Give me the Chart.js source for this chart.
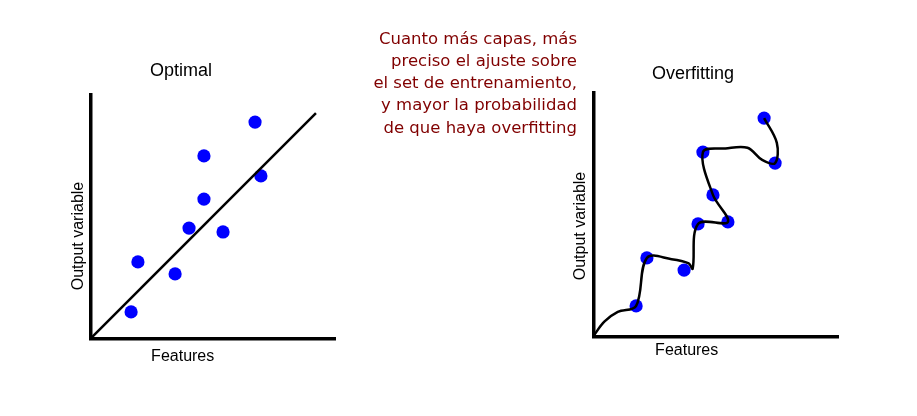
<!DOCTYPE html>
<html>
<head>
<meta charset="utf-8">
<script src="https://cdn.jsdelivr.net/npm/chart.js@4"></script>
<style>
  html, body { margin:0; padding:0; background:#fff; }
  #wrap { position:relative; width:917px; height:416px; overflow:hidden; background:#fff; }
  canvas { position:absolute; left:0; top:0; }
  .lbl { position:absolute; font-family:"Liberation Sans", Arial, sans-serif; color:#000; line-height:1; white-space:nowrap; text-align:center; width:240px; }
  .t18 { font-size:18px; }
  .t16 { font-size:16px; }
  .rot { transform:rotate(-90deg); transform-origin:50% 50%; }
  #note { position:absolute; right:340px; top:27.7px; font-family:"DejaVu Sans", Verdana, sans-serif; font-size:16.5px; line-height:22.2px; color:#800000; text-align:right; white-space:nowrap; }
</style>
</head>
<body>
<div id="wrap">
  <canvas id="cOpt" width="917" height="416"></canvas>
  <canvas id="cOver" width="917" height="416"></canvas>
  <div id="tOpt" class="lbl t18" style="left:61px; top:60.8px;"></div>
  <div id="tOver" class="lbl t18" style="left:573px; top:63.8px;"></div>
  <div id="xOpt" class="lbl t16" style="left:62.7px; top:347.5px;"></div>
  <div id="xOver" class="lbl t16" style="left:566.7px; top:341.5px;"></div>
  <div id="yOpt" class="lbl t16 rot" style="left:-42.3px; top:227.5px;"></div>
  <div id="yOver" class="lbl t16 rot" style="left:460.3px; top:217.8px;"></div>
  <div id="note"></div>
</div>
<script>
// ---- text ----
const titleOptimal = "Optimal";
const titleOverfit = "Overfitting";
const xAxisLabel = "Features";
const yAxisLabel = "Output variable";
const noteLines = [
  "Cuanto más capas, más",
  "preciso el ajuste sobre",
  "el set de entrenamiento,",
  "y mayor la probabilidad",
  "de que haya overfitting"
];

// ---- Optimal panel data ----
const optimalX = [6.73, 4.64, 6.97, 4.64, 4.03, 5.42, 1.94, 3.46, 1.66];
const optimalY = [8.89, 7.50, 6.68, 5.73, 4.54, 4.38, 3.15, 2.66, 1.10];
const optimalFitX = [0, 9.22];
const optimalFitY = [0, 9.26];

// ---- Overfitting panel data ----
const overfitX = [6.98, 7.43, 4.48, 4.89, 4.28, 5.50, 2.19, 3.71, 1.75];
const overfitY = [8.97, 7.12, 7.57, 5.81, 4.62, 4.70, 3.22, 2.72, 1.25];
const overfitCurveX = [0, 0.45, 1.00, 1.75, 2.19, 3.20, 3.90, 4.06, 4.28, 5.50, 4.89, 4.48, 5.40, 6.30, 6.90, 7.43, 7.50, 6.98];
const overfitCurveY = [0, 0.60, 1.00, 1.25, 3.22, 3.17, 3.00, 2.78, 4.62, 4.70, 5.81, 7.57, 7.72, 7.75, 7.25, 7.12, 7.95, 8.97];

// ---- labels into DOM ----
document.getElementById('tOpt').textContent = titleOptimal;
document.getElementById('tOver').textContent = titleOverfit;
document.getElementById('xOpt').textContent = xAxisLabel;
document.getElementById('xOver').textContent = xAxisLabel;
document.getElementById('yOpt').textContent = yAxisLabel;
document.getElementById('yOver').textContent = yAxisLabel;
const note = document.getElementById('note');
noteLines.forEach((l, i) => {
  if (i) note.appendChild(document.createElement('br'));
  note.appendChild(document.createTextNode(l));
});

function pts(xs, ys) { return xs.map((x, i) => ({x: x, y: ys[i]})); }

function axis(horizontal) {
  return {
    type: 'linear', min: 0, max: 10,
    grid: { display: false, drawTicks: false },
    ticks: { display: false },
    border: { display: true, width: 3.5, color: '#000' },
    afterFit: horizontal ? (s) => { s.height = 0; } : (s) => { s.width = 0; }
  };
}

function makeChart(id, padding, scatterPts, linePts, tension) {
  return new Chart(document.getElementById(id), {
    type: 'scatter',
    data: {
      datasets: [
        {
          data: linePts, showLine: true, borderColor: '#000', borderWidth: 2.5,
          pointRadius: 0, tension: tension, fill: false, clip: false
        },
        {
          data: scatterPts, backgroundColor: '#0000ff', borderWidth: 0,
          pointRadius: 6.6, clip: false
        }
      ]
    },
    options: {
      responsive: false, animation: false,
      layout: { padding: padding },
      plugins: { legend: { display: false }, tooltip: { enabled: false }, title: { display: false } },
      scales: { x: axis(true), y: axis(false) }
    }
  });
}

makeChart('cOpt', {left: 90.5, top: 95, right: 582, bottom: 77.3},
  pts(optimalX, optimalY), pts(optimalFitX, optimalFitY), 0);
makeChart('cOver', {left: 593.3, top: 93, right: 79, bottom: 79.7},
  pts(overfitX, overfitY), pts(overfitCurveX, overfitCurveY), 0.35);
</script>
</body>
</html>
